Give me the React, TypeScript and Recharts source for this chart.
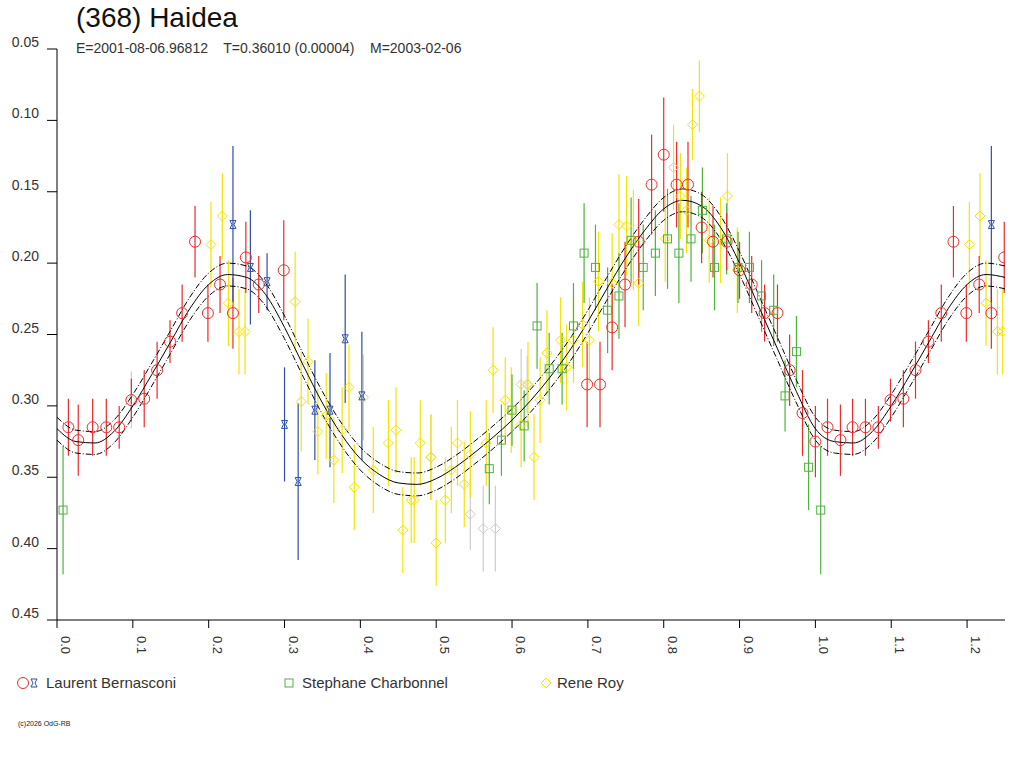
import { ComposedChart, ErrorBar, Line, Scatter, XAxis, YAxis } from "recharts";

// Fitted light curve, one cycle (phase, magnitude)
const CURVE_PHASE = [0, 0.025, 0.05, 0.075, 0.1, 0.125, 0.15, 0.175, 0.2, 0.225, 0.25, 0.275, 0.3, 0.325, 0.35, 0.375, 0.4, 0.425, 0.45, 0.475, 0.5, 0.525, 0.55, 0.575, 0.6, 0.625, 0.65, 0.675, 0.7, 0.725, 0.75, 0.775, 0.8, 0.825, 0.85, 0.875, 0.9, 0.925, 0.95, 0.975, 1.0];
const CURVE_MAG = [0.316, 0.325, 0.326, 0.318, 0.3, 0.278, 0.255, 0.232, 0.215, 0.208, 0.21, 0.222, 0.245, 0.272, 0.298, 0.32, 0.337, 0.348, 0.354, 0.355, 0.351, 0.343, 0.333, 0.322, 0.31, 0.296, 0.28, 0.262, 0.241, 0.218, 0.196, 0.177, 0.162, 0.156, 0.16, 0.175, 0.2, 0.23, 0.26, 0.29, 0.316];
const BAND = 0.008;

const RED_X = [0.015, 0.028, 0.047, 0.065, 0.082, 0.098, 0.115, 0.132, 0.149, 0.165, 0.182, 0.199, 0.215, 0.232, 0.249, 0.266, 0.299, 0.699, 0.716, 0.732, 0.749, 0.767, 0.784, 0.8, 0.817, 0.832, 0.85, 0.865, 0.883, 0.9, 0.916, 0.933, 0.95, 0.966, 0.983, 1.0, 1.016, 1.033, 1.049, 1.066, 1.083, 1.099, 1.116, 1.132, 1.149, 1.166, 1.182, 1.199, 1.216, 1.232, 1.249];
const RED_Y = [0.315, 0.324, 0.315, 0.315, 0.315, 0.296, 0.295, 0.275, 0.255, 0.235, 0.185, 0.235, 0.215, 0.235, 0.196, 0.215, 0.205, 0.285, 0.285, 0.245, 0.215, 0.185, 0.145, 0.124, 0.145, 0.145, 0.175, 0.185, 0.185, 0.205, 0.215, 0.235, 0.235, 0.275, 0.305, 0.325, 0.315, 0.324, 0.315, 0.315, 0.315, 0.296, 0.295, 0.275, 0.255, 0.235, 0.185, 0.235, 0.215, 0.235, 0.196];
const RED_ERR = [0.02, 0.025, 0.02, 0.02, 0.015, 0.015, 0.02, 0.02, 0.015, 0.02, 0.025, 0.02, 0.02, 0.025, 0.025, 0.02, 0.035, 0.03, 0.03, 0.03, 0.03, 0.03, 0.035, 0.04, 0.03, 0.03, 0.025, 0.025, 0.02, 0.02, 0.02, 0.02, 0.02, 0.025, 0.03, 0.025, 0.02, 0.025, 0.02, 0.02, 0.015, 0.015, 0.02, 0.02, 0.015, 0.02, 0.025, 0.02, 0.02, 0.025, 0.025];

const BLUE_X = [0.232, 0.255, 0.277, 0.3, 0.318, 0.34, 0.36, 0.38, 0.402, 1.232];
const BLUE_Y = [0.173, 0.203, 0.213, 0.313, 0.353, 0.303, 0.303, 0.253, 0.293, 0.173];
const BLUE_ERR = [0.055, 0.04, 0.02, 0.04, 0.055, 0.035, 0.04, 0.045, 0.045, 0.055];

const GREEN_X = [0.008, 0.57, 0.586, 0.6, 0.616, 0.633, 0.649, 0.666, 0.681, 0.695, 0.71, 0.726, 0.741, 0.757, 0.773, 0.789, 0.805, 0.82, 0.836, 0.851, 0.867, 0.883, 0.898, 0.913, 0.929, 0.945, 0.96, 0.975, 0.991, 1.007];
const GREEN_Y = [0.373, 0.344, 0.324, 0.303, 0.314, 0.244, 0.274, 0.274, 0.244, 0.193, 0.203, 0.233, 0.223, 0.184, 0.203, 0.193, 0.183, 0.193, 0.183, 0.163, 0.203, 0.183, 0.203, 0.203, 0.223, 0.233, 0.293, 0.262, 0.343, 0.373];
const GREEN_ERR = [0.045, 0.025, 0.025, 0.025, 0.025, 0.03, 0.025, 0.025, 0.03, 0.035, 0.03, 0.03, 0.03, 0.03, 0.03, 0.03, 0.035, 0.035, 0.03, 0.03, 0.03, 0.025, 0.025, 0.025, 0.025, 0.025, 0.025, 0.025, 0.03, 0.045];

const YELLOW_X = [0.203, 0.218, 0.226, 0.24, 0.248, 0.314, 0.322, 0.331, 0.344, 0.355, 0.365, 0.376, 0.385, 0.392, 0.404, 0.417, 0.437, 0.447, 0.456, 0.467, 0.471, 0.479, 0.493, 0.5, 0.512, 0.52, 0.528, 0.537, 0.545, 0.566, 0.575, 0.591, 0.599, 0.612, 0.621, 0.629, 0.637, 0.646, 0.664, 0.672, 0.681, 0.693, 0.702, 0.714, 0.732, 0.741, 0.751, 0.76, 0.767, 0.802, 0.813, 0.822, 0.83, 0.838, 0.847, 0.86, 0.875, 0.884, 0.897, 1.203, 1.217, 1.225, 1.24, 1.247];
const YELLOW_Y = [0.187, 0.167, 0.228, 0.248, 0.248, 0.227, 0.297, 0.269, 0.318, 0.307, 0.338, 0.317, 0.287, 0.357, 0.294, 0.345, 0.326, 0.317, 0.387, 0.366, 0.366, 0.326, 0.336, 0.396, 0.366, 0.345, 0.326, 0.355, 0.334, 0.326, 0.275, 0.296, 0.303, 0.313, 0.285, 0.336, 0.296, 0.263, 0.254, 0.273, 0.254, 0.243, 0.254, 0.213, 0.214, 0.173, 0.174, 0.184, 0.214, 0.183, 0.133, 0.153, 0.163, 0.103, 0.083, 0.184, 0.184, 0.153, 0.205, 0.187, 0.167, 0.228, 0.248, 0.248];
const YELLOW_ERR = [0.03, 0.03, 0.03, 0.03, 0.03, 0.035, 0.035, 0.03, 0.03, 0.03, 0.03, 0.03, 0.03, 0.03, 0.03, 0.03, 0.03, 0.03, 0.03, 0.03, 0.03, 0.03, 0.03, 0.03, 0.03, 0.03, 0.03, 0.03, 0.03, 0.03, 0.03, 0.03, 0.03, 0.03, 0.03, 0.03, 0.03, 0.03, 0.03, 0.03, 0.03, 0.03, 0.03, 0.035, 0.035, 0.035, 0.035, 0.035, 0.03, 0.03, 0.03, 0.03, 0.03, 0.025, 0.025, 0.03, 0.03, 0.03, 0.03, 0.03, 0.03, 0.03, 0.03, 0.03];

const GREY_X = [0.098, 0.493, 0.545, 0.562, 0.578, 0.612, 0.62];
const GREY_Y = [0.296, 0.336, 0.376, 0.386, 0.386, 0.285, 0.285];
const GREY_ERR = [0.02, 0.03, 0.025, 0.03, 0.03, 0.025, 0.02];

const X_TICKS = [0, 0.1, 0.2, 0.3, 0.4, 0.5, 0.6, 0.7, 0.8, 0.9, 1.0, 1.1, 1.2];
const Y_TICKS = [0.05, 0.1, 0.15, 0.2, 0.25, 0.3, 0.35, 0.4, 0.45];

const pts = (xs: number[], ys: number[], es: number[]) =>
  xs.map((x, i) => ({ x, y: ys[i], err: es[i] }));

// curve over 0..1.25, the second cycle reuses the same readings
const curveRows = [
  ...CURVE_PHASE.map((p, i) => ({ p, m: CURVE_MAG[i] })),
  ...CURVE_PHASE.slice(1).filter((p) => p <= 0.25).map((p, i) => ({ p: p + 1, m: CURVE_MAG[i + 1] })),
];
const curve = curveRows.map((r) => ({ x: r.p, y: r.m }));
const upper = curveRows.map((r) => ({ x: r.p, y: r.m - BAND }));
const lower = curveRows.map((r) => ({ x: r.p, y: r.m + BAND }));

const font = "Arial, 'Liberation Sans', sans-serif";

const Circle = (c: string) => (p: any) => <circle cx={p.cx} cy={p.cy} r={5.5} fill="none" stroke={c} strokeWidth={1} />;
const Square = (c: string) => (p: any) => <rect x={p.cx - 4} y={p.cy - 4} width={8} height={8} fill="none" stroke={c} strokeWidth={1} />;
const Diamond = (c: string) => (p: any) => (
  <path d={`M${p.cx},${p.cy - 5}L${p.cx + 5},${p.cy}L${p.cx},${p.cy + 5}L${p.cx - 5},${p.cy}Z`} fill="none" stroke={c} strokeWidth={1} />
);
const Star = (c: string) => (p: any) => (
  <path d={`M${p.cx - 3},${p.cy - 4}L${p.cx + 3},${p.cy - 4}L${p.cx + 1},${p.cy}L${p.cx + 3},${p.cy + 4}L${p.cx - 3},${p.cy + 4}L${p.cx - 1},${p.cy}Z`} fill="none" stroke={c} strokeWidth={1} />
);

const XTick = (p: any) => (
  <text x={p.x + 4} y={p.y + 6} transform={`rotate(90 ${p.x + 4} ${p.y + 6})`} fontSize={13} fontFamily={font} fill="#333">
    {p.payload.value.toFixed(1)}
  </text>
);
const YTick = (p: any) => (
  <text x={p.x - 6} y={p.y - 2} textAnchor="end" fontSize={14} fontFamily={font} fill="#333">
    {p.payload.value.toFixed(2)}
  </text>
);

export default function App() {
  const series = [
    { d: pts(GREY_X, GREY_Y, GREY_ERR), c: "#cccccc", s: Diamond("#cccccc") },
    { d: pts(YELLOW_X, YELLOW_Y, YELLOW_ERR), c: "#f5e400", s: Diamond("#f5e400") },
    { d: pts(GREEN_X, GREEN_Y, GREEN_ERR), c: "#4db33d", s: Square("#4db33d") },
    { d: pts(RED_X, RED_Y, RED_ERR), c: "#ee2a2a", s: Circle("#ee2a2a") },
    { d: pts(BLUE_X, BLUE_Y, BLUE_ERR), c: "#2d4fa8", s: Star("#2d4fa8") },
  ];
  return (
    <div style={{ position: "absolute", left: 0, top: 0, width: 1024, height: 768, background: "#fff", fontFamily: font }}>
      <div style={{ position: "absolute", left: 76, top: 2, fontSize: 28, color: "#111" }}>(368) Haidea</div>
      <div style={{ position: "absolute", left: 76, top: 40, fontSize: 14, color: "#333", whiteSpace: "pre" }}>
        {"E=2001-08-06.96812    T=0.36010 (0.00004)    M=2003-02-06"}
      </div>
      <ComposedChart width={1024} height={660} margin={{ top: 49, right: 19, left: 0, bottom: 0 }}>
        <XAxis type="number" dataKey="x" domain={[0, 1.25]} ticks={X_TICKS} tick={XTick} height={40}
          axisLine={{ stroke: "#000" }} tickLine={{ stroke: "#000" }} tickSize={8} allowDataOverflow />
        <YAxis type="number" dataKey="y" reversed domain={[0.05, 0.45]} ticks={Y_TICKS} tick={YTick} width={57}
          axisLine={{ stroke: "#000" }} tickLine={{ stroke: "#000" }} tickSize={10} allowDataOverflow />
        {series.map((s, i) => (
          <Scatter key={i} data={s.d} dataKey="y" shape={s.s} isAnimationActive={false}>
            <ErrorBar dataKey="err" direction="y" width={0} stroke={s.c} strokeWidth={1.2} />
          </Scatter>
        ))}
        <Line data={curve} dataKey="y" type="monotone" stroke="#000" strokeWidth={1} dot={false} isAnimationActive={false} />
        <Line data={upper} dataKey="y" type="monotone" stroke="#000" strokeWidth={1} strokeDasharray="6 2 1 2" dot={false} isAnimationActive={false} />
        <Line data={lower} dataKey="y" type="monotone" stroke="#000" strokeWidth={1} strokeDasharray="6 2 1 2" dot={false} isAnimationActive={false} />
      </ComposedChart>
      <div style={{ position: "absolute", top: 674, left: 16, fontSize: 15, color: "#333", display: "flex", alignItems: "center" }}>
        <svg width={26} height={14}>
          <circle cx={7} cy={7} r={5.5} fill="none" stroke="#ee2a2a" />
          <path d="M15,3L21,3L19,7L21,11L15,11L17,7Z" fill="none" stroke="#2d4fa8" />
        </svg>
        <span style={{ marginLeft: 4 }}>Laurent Bernasconi</span>
      </div>
      <div style={{ position: "absolute", top: 674, left: 284, fontSize: 15, color: "#333", display: "flex", alignItems: "center" }}>
        <svg width={12} height={14}><rect x={1} y={3} width={8} height={8} fill="none" stroke="#4db33d" /></svg>
        <span style={{ marginLeft: 6 }}>Stephane Charbonnel</span>
      </div>
      <div style={{ position: "absolute", top: 674, left: 539, fontSize: 15, color: "#333", display: "flex", alignItems: "center" }}>
        <svg width={14} height={14}><path d="M7,2L12,7L7,12L2,7Z" fill="none" stroke="#f5e400" /></svg>
        <span style={{ marginLeft: 4 }}>Rene Roy</span>
      </div>
      <div style={{ position: "absolute", top: 720, left: 18, fontSize: 7, color: "#222" }}>(c)2026 OdG-RB</div>
    </div>
  );
}
